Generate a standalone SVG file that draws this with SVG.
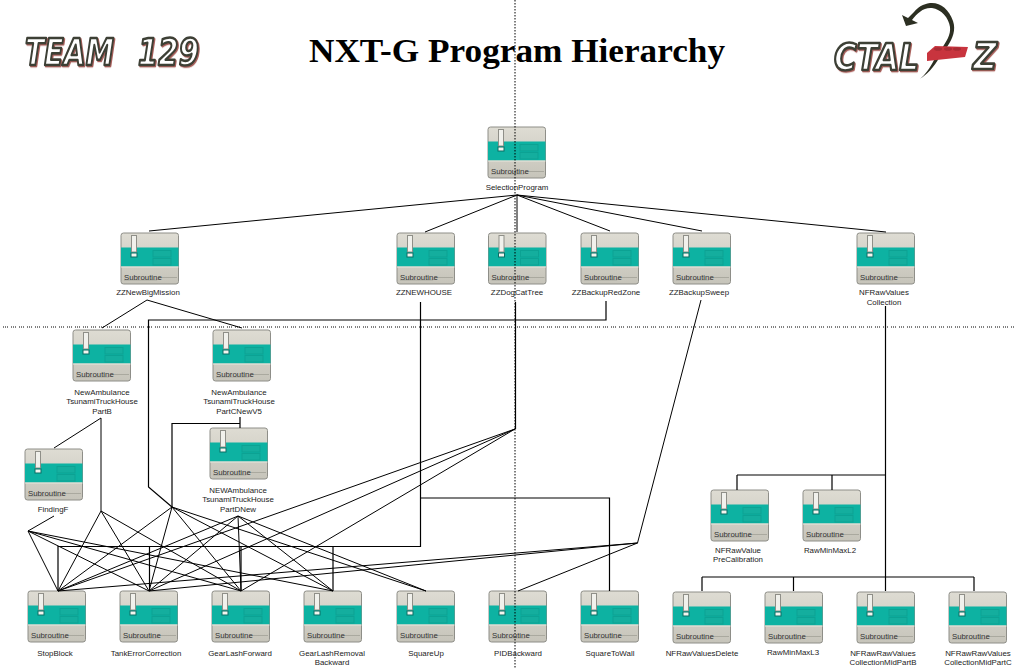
<svg xmlns="http://www.w3.org/2000/svg" width="1015" height="669" viewBox="0 0 1015 669">
<style>
.l{font:7.9px "Liberation Sans",Arial,sans-serif;fill:#222;text-anchor:middle}
.s{font:7.8px "Liberation Sans",Arial,sans-serif;fill:#333}
.w{fill:none;stroke:#000;stroke-width:1}
.o{fill:none;stroke:#000;stroke-width:1.2}
.dot{fill:none;stroke:#000;stroke-width:1}
.title{font:bold 34px "Liberation Serif","Times New Roman",serif;fill:#000}
.logo{font-family:"DejaVu Sans",sans-serif;font-weight:bold;font-style:italic;fill:#fff;stroke:#3c3f36;stroke-width:2.6;stroke-linejoin:round}
</style>
<defs>
<linearGradient id="gb" x1="0" y1="0" x2="0" y2="1"><stop offset="0" stop-color="#dedcd3"/><stop offset="1" stop-color="#c6c4ba"/></linearGradient>
<filter id="sh" x="-5%" y="-10%" width="110%" height="125%"><feDropShadow dx="1" dy="1.2" stdDeviation="0" flood-color="#a8605c"/></filter>
<g id="icon">
<rect x="0" y="0" width="57.500" height="51" rx="2.500" fill="url(#gb)" stroke="#8e8e88" stroke-width="1"/>
<rect x="0" y="14.500" width="57.500" height="19" fill="#0db2a2"/>
<rect x="0" y="33.500" width="57.500" height="1" fill="#e8e6dc"/>
<rect x="10.500" y="2.500" width="5" height="16.500" fill="#f1f1ec" stroke="#8f8f88" stroke-width="1"/>
<rect x="10" y="20" width="6" height="4" fill="#f4f4ee" stroke="#0a6e64" stroke-width="1"/>
<rect x="32" y="17.500" width="18" height="6.500" fill="#14ae9e" stroke="#0ca293" stroke-width="1"/>
<rect x="32" y="25.500" width="18" height="6.500" fill="#14ae9e" stroke="#0ca293" stroke-width="1"/>
<path d="M3 47H36L39 44.500H56" fill="none" stroke="#aaa99f" stroke-width="1"/>
</g>
</defs>
<rect width="1015" height="669" fill="#fff"/>

<g id="logo-team"><text class="logo" x="25" y="65" font-size="38" textLength="89" lengthAdjust="spacingAndGlyphs" filter="url(#sh)">TEAM</text><text class="logo" x="138" y="65" font-size="38" textLength="61" lengthAdjust="spacingAndGlyphs" filter="url(#sh)">129</text></g>
<text class="title" x="309" y="62" textLength="416" lengthAdjust="spacingAndGlyphs">NXT-G Program Hierarchy</text>
<g id="logo-ctrlz">
<path d="M920 79C930 72 937 63 941 54L947 47C953 38 956 30 953 21C949 9 940 2 930 3C923 4 918 7 914 12L908 18L902 15L906 26L918 23L912 20C917 13 924 7 932 8C941 9 949 18 950 27C951 35 946 42 942 48L934 60C930 68 925 75 920 79Z" fill="#2c2f22"/>
<text class="logo" x="834" y="70" font-size="37" textLength="85" lengthAdjust="spacingAndGlyphs" filter="url(#sh)">CTAL</text>
<path d="M927 53L935 46L968 47L965 57L927 61Z" fill="#c8343e"/>
<ellipse cx="938" cy="49" rx="4" ry="1.800" fill="#a82c34"/><ellipse cx="948" cy="49" rx="4" ry="1.800" fill="#a82c34"/><ellipse cx="957" cy="49" rx="4" ry="1.800" fill="#a82c34"/>
<text class="logo" x="973" y="69" font-size="37" textLength="24" lengthAdjust="spacingAndGlyphs" filter="url(#sh)">Z</text>
</g>

<g id="nodes">
<g id="n-selection"><use href="#icon" x="488" y="127"/><text class="s" x="491" y="174">Subroutine</text><text class="l" x="517" y="190">SelectionProgram</text></g>
<g id="n-zznewbig"><use href="#icon" x="121" y="233"/><text class="s" x="124" y="280">Subroutine</text><text class="l" x="148" y="295">ZZNewBigMission</text></g>
<g id="n-zznewhouse"><use href="#icon" x="397" y="233"/><text class="s" x="400" y="280">Subroutine</text><text class="l" x="424" y="295">ZZNEWHOUSE</text></g>
<g id="n-zzdog"><use href="#icon" x="488.500" y="233"/><text class="s" x="491.500" y="280">Subroutine</text><text class="l" x="517" y="295">ZZDogCatTree</text></g>
<g id="n-zzred"><use href="#icon" x="581" y="233"/><text class="s" x="584" y="280">Subroutine</text><text class="l" x="606" y="295">ZZBackupRedZone</text></g>
<g id="n-zzsweep"><use href="#icon" x="673" y="233"/><text class="s" x="676" y="280">Subroutine</text><text class="l" x="699" y="295">ZZBackupSweep</text></g>
<g id="n-nfraw"><use href="#icon" x="857" y="233"/><text class="s" x="860" y="280">Subroutine</text><text class="l" x="884" y="295">NFRawValues</text><text class="l" x="884" y="305">Collection</text></g>
<g id="n-partb"><use href="#icon" x="73" y="330"/><text class="s" x="76" y="377">Subroutine</text><text class="l" x="102" y="395">NewAmbulance</text><text class="l" x="102" y="404">TsunamiTruckHouse</text><text class="l" x="102" y="414">PartB</text></g>
<g id="n-partc"><use href="#icon" x="213" y="330"/><text class="s" x="216" y="377">Subroutine</text><text class="l" x="239" y="395">NewAmbulance</text><text class="l" x="239" y="404">TsunamiTruckHouse</text><text class="l" x="239" y="414">PartCNewV5</text></g>
<g id="n-partd"><use href="#icon" x="210" y="428"/><text class="s" x="213" y="475">Subroutine</text><text class="l" x="238" y="493">NEWAmbulance</text><text class="l" x="238" y="502">TsunamiTruckHouse</text><text class="l" x="238" y="512">PartDNew</text></g>
<g id="n-findingf"><use href="#icon" x="25" y="449"/><text class="s" x="28" y="496">Subroutine</text><text class="l" x="53" y="512">FindingF</text></g>
<g id="n-stopblock"><use href="#icon" x="28" y="591"/><text class="s" x="31" y="638">Subroutine</text><text class="l" x="55" y="656">StopBlock</text></g>
<g id="n-tank"><use href="#icon" x="120" y="591"/><text class="s" x="123" y="638">Subroutine</text><text class="l" x="146" y="656">TankErrorCorrection</text></g>
<g id="n-gearfwd"><use href="#icon" x="212" y="591"/><text class="s" x="215" y="638">Subroutine</text><text class="l" x="240" y="656">GearLashForward</text></g>
<g id="n-gearrem"><use href="#icon" x="304" y="591"/><text class="s" x="307" y="638">Subroutine</text><text class="l" x="332" y="656">GearLashRemoval</text><text class="l" x="332" y="665">Backward</text></g>
<g id="n-squareup"><use href="#icon" x="397" y="591"/><text class="s" x="400" y="638">Subroutine</text><text class="l" x="426" y="656">SquareUp</text></g>
<g id="n-pid"><use href="#icon" x="489" y="591"/><text class="s" x="492" y="638">Subroutine</text><text class="l" x="518" y="656">PIDBackward</text></g>
<g id="n-squarewall"><use href="#icon" x="581" y="591"/><text class="s" x="584" y="638">Subroutine</text><text class="l" x="610" y="656">SquareToWall</text></g>
<g id="n-delete"><use href="#icon" x="673" y="592"/><text class="s" x="676" y="639">Subroutine</text><text class="l" x="702" y="656">NFRawValuesDelete</text></g>
<g id="n-l3"><use href="#icon" x="765" y="592"/><text class="s" x="768" y="639">Subroutine</text><text class="l" x="793" y="655">RawMinMaxL3</text></g>
<g id="n-midb"><use href="#icon" x="857" y="592"/><text class="s" x="860" y="639">Subroutine</text><text class="l" x="883" y="656">NFRawRawValues</text><text class="l" x="883" y="665">CollectionMidPartB</text></g>
<g id="n-midc"><use href="#icon" x="949" y="592"/><text class="s" x="952" y="639">Subroutine</text><text class="l" x="978" y="656">NFRawRawValues</text><text class="l" x="978" y="665">CollectionMidPartC</text></g>
<g id="n-precal"><use href="#icon" x="711" y="490"/><text class="s" x="714" y="537">Subroutine</text><text class="l" x="738" y="553">NFRawValue</text><text class="l" x="738" y="562">PreCalibration</text></g>
<g id="n-l2"><use href="#icon" x="803" y="490"/><text class="s" x="806" y="537">Subroutine</text><text class="l" x="830" y="553">RawMinMaxL2</text></g>
</g>

<g id="connectors">
<path class="w" d="M517 195L149 231M517 195L425 232M517 195L517 232M517 195L610 231M517 195L702 231M517 195L886 232"/>
<path class="w" d="M147 300L102 328M147 300L242 328"/>
<path class="w" d="M101 418L54 448M101 418L101 511M54 516L28 531"/>
<path class="w" d="M28 531L58 591M28 531L149 591M28 531L241 591M28 531L333 591"/>
<path class="w" d="M101 511L58 591M101 511L149 591M101 511L241 591"/>
<path class="w" d="M172 507L58 591M172 507L149 591M172 507L241 591M172 507L333 591M172 507L426 591"/>
<path class="w" d="M238 516L58 591M238 516L149 591M238 516L241 591M238 516L333 591M238 516L426 591"/>
<path class="w" d="M515 429L58 591M515 429L149 591M515 429L241 591"/>
<path class="w" d="M701 300L637.500 543L518 591M637.500 543L58 591M637.500 543L149 591"/>
<path class="o" d="M240 417V428M240 423.500H172V507"/>
<path class="o" d="M606 301V320H148.500V487L172 507"/>
<path class="o" d="M420.500 302V546.500H58V591M149.500 546.500V591M241 546.500V591M333 546.500V591"/>
<path class="o" d="M420.500 498H609.500V591"/>
<path class="o" d="M515.500 302V429"/>
<path class="o" d="M885.500 306V591M737 475H885.500M737 475V490M832 475V490"/>
<path class="o" d="M702 577H974M702 577V591M793.500 577V591M974 577V591"/>
</g>

<g id="guides">
<path class="dot" d="M515 0V669" stroke-dasharray="1.500 1.500"/>
<path class="dot" d="M3 327H1015" stroke-dasharray="1 1 1 1 1 3"/>
</g>
</svg>
